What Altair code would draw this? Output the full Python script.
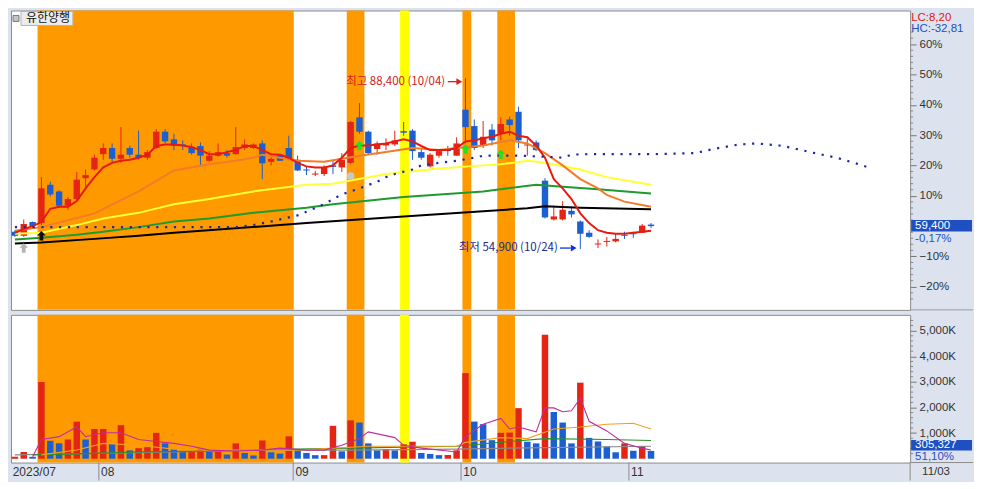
import altair as alt
import pandas as pd

# ---------------- data ----------------
# trading days 2023-07-18 .. 2023-11-03, index 0..72
month_bounds = [9.5, 31.5, 50.5, 69.5]
month_labels = ["08", "09", "10", "11"]

opens = [58300, 57500, 60200, 60000, 67500, 66200, 63400, 64700, 68800, 70500,
         73500, 74700, 72600, 74700, 73400, 72800, 74700, 77900, 76400, 75400,
         74900, 75100, 72200, 73200, 73700, 73500, 74700, 74700, 75600, 72000,
         73400, 74700, 72400, 70500, 69500, 69600, 71300, 70900, 71800, 80700,
         77900, 74500, 75200, 75400, 78000, 78100, 73900, 71100, 73200, 74500,
         73200, 82200, 79000, 75100, 78300, 77500, 80300, 81800, 75200, 75800,
         68300, 60700, 60700, 62400, 60300, 58100, 55800, 56300, 56400, 57700,
         58000, 58100, 59700]
highs = [58600, 60700, 60300, 69000, 68100, 66400, 65100, 70000, 70500, 73400,
         75600, 75600, 78800, 75200, 78100, 74300, 78400, 78400, 77500, 76200,
         75600, 75800, 74100, 75600, 74300, 78800, 76400, 75600, 76200, 73200,
         73500, 77100, 73200, 71100, 70200, 71300, 72400, 73700, 80000, 83500,
         78100, 76000, 76600, 78100, 79800, 78400, 74700, 73700, 74500, 75100,
         76800, 88400, 80300, 80000, 79400, 80700, 80900, 82800, 76600, 76200,
         68800, 63400, 64300, 63200, 60500, 58600, 56800, 57300, 57900, 58300,
         58300, 59800, 60000]
lows = [57300, 57300, 59000, 59600, 65200, 63000, 62600, 64300, 67100, 70300,
        72400, 71800, 71800, 72800, 72400, 72400, 74500, 75600, 74300, 74300,
        73400, 71300, 72000, 73000, 72800, 73400, 74300, 74500, 68600, 71300,
        72200, 72400, 70200, 69400, 69200, 69200, 69600, 70000, 71500, 77500,
        73400, 73400, 74300, 75100, 77100, 72400, 72400, 70900, 72800, 73200,
        73200, 75600, 74300, 74700, 75200, 76200, 77100, 74700, 73200, 74100,
        60900, 60500, 60500, 61100, 54900, 57100, 55100, 55400, 56200, 56900,
        57100, 58100, 59000]
closes = [57500, 59800, 59400, 66800, 65600, 63400, 64700, 68500, 69400, 72800,
          74700, 72600, 73400, 73400, 72800, 73900, 77900, 76000, 75100, 75100,
          73700, 73200, 73200, 73900, 73200, 74900, 75400, 75400, 71700, 72600,
          72200, 72600, 70300, 70300, 69700, 70900, 71000, 72400, 79800, 77900,
          73700, 75600, 75600, 76200, 77700, 74100, 72800, 73400, 74100, 74100,
          75600, 78800, 74700, 76900, 76200, 79400, 79200, 76200, 75400, 74300,
          61100, 61300, 62600, 61700, 57900, 57300, 56000, 56500, 56900, 57500,
          57800, 59500, 59400]

# volume in thousands of shares, and bar colour (R = up vs previous day, B = down)
vol_k = [75, 262, 75, 2996, 700, 600, 749, 1449, 749, 1161,
         1161, 574, 1311, 325, 412, 449, 1011, 599, 375, 300,
         300, 387, 262, 287, 162, 599, 225, 125, 712, 250,
         200, 874, 375, 225, 139, 139, 1285, 288, 1498, 1412,
         599, 326, 375, 326, 562, 663, 225, 187, 139, 145,
         326, 3344, 1449, 1348, 723, 1011, 1020, 1974, 663, 599,
         4842, 1824, 1412, 599, 2970, 813, 674, 476, 251, 599,
         311, 498, 305]
vol_dir = list("RRBRBBRRBRRBRBRRRBBBRRBRBRBBRBBRBBBRRBRBBBRBRRBBBRRRBBBRRRBBRBBBRBBBBRBRB")

# price moving averages
ma5 = [58100, 58800, 59400, 60200, 62800, 63200, 63200, 64300, 66800, 69000,
       70900, 71800, 72200, 72400, 72800, 73400, 75100, 75400, 75400, 75200,
       74900, 74300, 73500, 73500, 73900, 74300, 75100, 75100, 74300, 73500,
       73400, 72800, 71800, 71100, 70900, 70900, 71300, 72800, 74700, 75200,
       75200, 75400, 75600, 76000, 76400, 76000, 75100, 74300, 74300, 74300,
       74700, 76000, 76200, 76600, 76900, 77500, 77900, 77100, 76800, 75200,
       72800, 68600, 66800, 64700, 61900, 60000, 58600, 58100, 57900, 57900,
       58100, 58300, 58500]
ma10_idx = [0, 3, 9, 14, 18, 22, 25, 27, 28, 32, 35, 39, 42, 45, 48, 50, 53, 56, 58, 60, 62, 64, 66, 67, 69, 72]
ma10_val = [58500, 59200, 61900, 66200, 70300, 71500, 72200, 72800, 73400, 72200, 72000, 73200, 73900,
            74700, 74300, 74700, 75200, 76200, 75600, 73700, 71300, 68600, 66800, 65500, 64200, 63200]
ma20_idx = [0, 3, 7, 10, 14, 18, 22, 27, 33, 36, 42, 48, 53, 55, 58, 60, 64, 67, 72]
ma20_val = [57900, 58100, 59600, 60900, 62000, 63700, 64700, 66200, 67500, 67700, 69600, 70700,
            71300, 71500, 72200, 71800, 70500, 69000, 67500]
ma60_idx = [0, 3, 7, 10, 14, 18, 22, 27, 33, 36, 44, 53, 59, 62, 66, 72]
ma60_val = [56800, 57100, 57700, 58300, 59200, 60300, 60900, 62000, 63000, 63700, 65100, 66200,
            67500, 67100, 66600, 65800]
ma120_idx = [0, 3, 9, 14, 18, 33, 44, 53, 58, 60, 64, 72]
ma120_val = [56000, 56200, 56900, 57500, 58100, 60000, 61300, 62300, 62900, 63300, 63000, 62700]
span_idx = [0, 25, 27, 29, 32, 33, 35, 36, 37, 39, 41, 42, 43, 45, 46, 48, 50, 52, 53, 57, 60,
            62, 63, 65, 72, 77, 79, 82, 84, 87, 90, 93, 95, 97]
span_val = [59200, 59200, 59600, 60300, 61500, 62200, 63700, 64700, 65600, 66800, 68100, 69000,
            69600, 70500, 71300, 71800, 72200, 72800, 73200, 73200, 73000, 72800, 73400, 73500,
            73500, 73700, 74500, 75400, 75600, 75100, 73900, 72800, 71800, 70700]

# volume moving averages (thousands)
vma5_idx = [2, 3, 5, 7, 8, 10, 12, 14, 16, 18, 20, 22, 25, 28, 30, 33, 35, 37, 39, 40,
            43, 44, 46, 50, 51, 53, 55, 56, 57, 59, 60, 61, 62, 63, 64, 65, 67, 69, 71, 72]
vma5_val = [75, 749, 861, 1236, 861, 1011, 1011, 749, 674, 599, 487, 337, 300, 337, 412, 337,
            337, 524, 786, 1049, 824, 524, 412, 262, 861, 1348, 1573, 1161, 1236, 1049, 1985,
            1985, 1835, 1873, 2359, 1461, 1086, 599, 412, 337]
vma20_idx = [3, 7, 10, 14, 18, 22, 32, 40, 45, 50, 51, 55, 58, 61, 64, 67, 70, 72]
vma20_val = [150, 337, 599, 524, 375, 337, 337, 487, 487, 487, 637, 824, 786, 1161, 1236, 1348, 1386, 1161]
vma60_idx = [2, 7, 14, 22, 32, 38, 50, 56, 60, 67, 72]
vma60_val = [150, 187, 262, 300, 375, 412, 487, 674, 786, 749, 712]
vma120_idx = [0, 30, 38, 50, 56, 72]
vma120_val = [150, 337, 337, 375, 412, 487]

# highlighted background bands (index ranges)
band_from = [2.56, 37.56, 43.6, 50.66, 54.6]
band_to = [31.56, 39.56, 44.6, 51.66, 56.6]
band_color = ["#ff9900", "#ff9900", "#ffff00", "#ff9900", "#ff9900"]

# signal markers
arrow_idx = [1, 3, 39, 51, 55]
arrow_val = [55100, 57500, 75200, 74500, 73500]
arrow_col = ["#b4b4b4", "#111111", "#22e022", "#22e022", "#22e022"]
dot_idx = [38]
dot_val = [69200]

last_price = 59400
pct_ticks = [-20, -10, 10, 20, 30, 40, 50, 60]
vol_ticks = [1000, 2000, 3000, 4000, 5000]

# ---------------- layout ----------------
W, H1, H2 = 901, 300, 148
RED, BLUE = "#e42414", "#1b5fd0"
BG = "#dce3ee"
KFONT = "Noto Sans CJK KR"
NFONT = "Liberation Sans"

xs = alt.Scale(domain=[-0.444, 101.333], nice=False, zero=False, padding=0)
ys = alt.Scale(domain=[42992, 101646], nice=False, zero=False, padding=0)
vs = alt.Scale(domain=[-150, 5618], nice=False, zero=False, padding=0)

pct_vals = [last_price * (1 + k / 100) for k in pct_ticks]
PAX = alt.Axis(orient="right", values=pct_vals, title=None, tickSize=6, labelPadding=3,
               labelOverlap=False,
               labelExpr="format(round((datum.value/%d-1)*100),'d')+'%%'" % last_price)
VAX = alt.Axis(orient="right", values=vol_ticks, title=None, tickSize=6, labelOverlap=False,
               labelPadding=3, labelExpr="format(datum.value, ',') + 'K'")

candles = pd.DataFrame({"i": list(range(len(opens))), "o": opens, "h": highs,
                        "l": lows, "c": closes})
candles["col"] = [RED if c >= o else BLUE for o, c in zip(opens, closes)]
vols = pd.DataFrame({"i": list(range(len(vol_k))), "v": vol_k,
                     "col": [RED if d == "R" else BLUE for d in vol_dir]})
bands = pd.DataFrame({"a": band_from, "b": band_to, "c": band_color})

X = lambda f="i": alt.X(f"{f}:Q", scale=xs, axis=None)
YP = lambda f="p": alt.Y(f"{f}:Q", scale=ys, axis=PAX)
YV = lambda f="v": alt.Y(f"{f}:Q", scale=vs, axis=VAX)


def pline(idx, val, color, width, dash=None):
    d = pd.DataFrame({"i": idx, "p": val})
    kw = dict(color=color, strokeWidth=width)
    if dash:
        kw["strokeDash"] = dash
    return alt.Chart(d).mark_line(**kw).encode(x=X(), y=YP())


def vline(idx, val, color, width=1.1):
    d = pd.DataFrame({"i": idx, "v": val})
    return alt.Chart(d).mark_line(color=color, strokeWidth=width).encode(x=X(), y=YV())


one = pd.DataFrame({"k": [0]})


def label(txt, x, y, color="#333", size=11, font=NFONT, align="left"):
    return alt.Chart(one).mark_text(text=txt, color=color, fontSize=size, font=font,
                                    align=align, baseline="middle").encode(
        x=alt.value(x), y=alt.value(y))


def box(x1, x2, y1, y2, fill, stroke=None):
    kw = dict(fill=fill)
    if stroke:
        kw.update(stroke=stroke, strokeWidth=1)
    return alt.Chart(one).mark_rect(**kw).encode(
        x=alt.value(x1), x2=alt.value(x2), y=alt.value(y1), y2=alt.value(y2))


# ---------------- upper (price) panel ----------------
band_up = alt.Chart(bands).mark_rect().encode(
    x=X("a"), x2="b:Q", y=alt.value(0), y2=alt.value(H1),
    color=alt.Color("c:N", scale=None))

wicks = alt.Chart(candles).mark_rule(strokeWidth=1).encode(
    x=X(), y=YP("l"), y2="h:Q", color=alt.Color("col:N", scale=None))
bodies = alt.Chart(candles).mark_bar(size=6.4).encode(
    x=X(), y=YP("o"), y2="c:Q", color=alt.Color("col:N", scale=None))

ma_layers = [
    pline(ma120_idx, ma120_val, "#000000", 2),
    pline(ma60_idx, ma60_val, "#1f9a2e", 2),
    pline(ma20_idx, ma20_val, "#ffff33", 2),
    pline(ma10_idx, ma10_val, "#f47b2a", 2),
    pline(list(range(len(ma5))), ma5, "#e81a10", 2),
    pline(span_idx, span_val, "#1d2aa8", 2.2, dash=[2.2, 6.65]),
]

arrow_path = "M0,-1L0.9,-0.05L0.4,-0.05L0.4,1L-0.4,1L-0.4,-0.05L-0.9,-0.05Z"
arrows = alt.Chart(pd.DataFrame({"i": arrow_idx, "p": arrow_val, "c": arrow_col})).mark_point(
    shape=arrow_path, filled=True, size=90, opacity=1).encode(
    x=X(), y=YP(), color=alt.Color("c:N", scale=None))
dots = alt.Chart(pd.DataFrame({"i": dot_idx, "p": dot_val})).mark_point(
    shape="circle", filled=True, size=60, color="#c8c8c8", opacity=1).encode(
    x=X(), y=YP())

# annotations: highest / lowest
ann_txt = pd.DataFrame({"i": [48.7, 61.45], "p": [87700, 55100],
                        "t": ["최고 88,400 (10/04)", "최저 54,900 (10/24)"],
                        "c": ["#d42020", "#1c2a8e"]})
ann_text = alt.Chart(ann_txt).mark_text(align="right", baseline="middle", fontSize=11.5,
                                        font=KFONT).encode(
    x=X(), y=YP(), text="t:N", color=alt.Color("c:N", scale=None))
ann_line = pd.DataFrame({"a": [49.0, 61.7], "b": [50.1, 62.9], "p": [87700, 55100],
                         "c": ["#e02020", "#1030e0"]})
ann_rule = alt.Chart(ann_line).mark_rule(strokeWidth=1.3).encode(
    x=X("a"), x2="b:Q", y=YP(), color=alt.Color("c:N", scale=None))
ann_head = alt.Chart(pd.DataFrame({"i": [50.3, 63.25], "p": [87700, 55100],
                                   "c": ["#e02020", "#1030e0"]})).mark_point(
    shape="triangle-right", filled=True, size=45, opacity=1).encode(
    x=X(), y=YP(), color=alt.Color("c:N", scale=None))

# minor ticks on the percent axis (every 2 %)
minor_pct = [last_price * (1 + k / 50) for k in range(-12, 33) if k % 5 != 0]
minor_up = alt.Chart(pd.DataFrame({"p": minor_pct})).mark_rule(color="#888", strokeWidth=1).encode(
    y=YP(), x=alt.value(W), x2=alt.value(W + 3))

upper = alt.layer(
    band_up, wicks, bodies, *ma_layers, arrows, dots, ann_rule, ann_head, ann_text, minor_up,
    # title box
    box(10, 62, 1, 15, "#ececec", "#b4b4b4"),
    box(2, 8, 5, 11, "#c4c4c4", "#7a7a7a"),
    label("유한양행", 15, 8, color="#111", size=12, font=KFONT),
    # right strip texts
    label("LC:8,20", W + 1, 8, color="#e01818", size=11.5),
    label("HC:-32,81", W + 1, 18.5, color="#2450c0", size=11.5),
    box(W + 1, W + 62, 210, 221.5, "#1f50c2"),
    label("59,400", W + 5, 216, color="white", size=11.5),
    label("-0,17%", W + 5, 228.5, color="#2450c0", size=11.5),
    alt.Chart(one).mark_rule(color="#9a9a9a").encode(
        x=alt.value(W), x2=alt.value(W + 63), y=alt.value(H1)),
).properties(width=W, height=H1)

# ---------------- lower (volume) panel ----------------
band_lo = alt.Chart(bands).mark_rect().encode(
    x=X("a"), x2="b:Q", y=alt.value(0), y2=alt.value(H2),
    color=alt.Color("c:N", scale=None))
vbars = alt.Chart(vols).mark_bar(size=6.5).encode(
    x=X(), y=YV(), y2=alt.value(H2), color=alt.Color("col:N", scale=None))
vma_layers = [
    vline(vma120_idx, vma120_val, "#8a8a8a"),
    vline(vma60_idx, vma60_val, "#2a8f2a"),
    vline(vma20_idx, vma20_val, "#f0a020"),
    vline(vma5_idx, vma5_val, "#c02ca0"),
]
minor_v = alt.Chart(pd.DataFrame({"v": [k * 200 for k in range(1, 28) if k % 5 != 0]})).mark_rule(
    color="#888", strokeWidth=1).encode(
    y=YV(), x=alt.value(W), x2=alt.value(W + 3))

month_df = pd.DataFrame({"i": [-0.25] + [b + 0.25 for b in month_bounds],
                         "t": ["2023/07"] + month_labels})
month_text = alt.Chart(month_df).mark_text(align="left", baseline="middle", fontSize=12,
                                           font=NFONT, color="#333").encode(
    x=X(), y=alt.value(H2 + 9.5), text="t:N")
month_div = alt.Chart(pd.DataFrame({"i": month_bounds})).mark_rule(color="#8c8c8c").encode(
    x=X(), y=alt.value(H2), y2=alt.value(H2 + 18))

lower = alt.layer(
    box(W, W + 63, H2, H2 + 18, BG),
    band_lo, vbars, *vma_layers, minor_v,
    box(W + 1, W + 62, 125.5, 136, "#1f50c2"),
    label("305,327", W + 5, 130.8, color="white", size=11.5),
    label("51,10%", W + 5, 142.5, color="#2450c0", size=11.5),
    month_div, month_text,
    alt.Chart(one).mark_rule(color="#8c8c8c").encode(
        x=alt.value(W), y=alt.value(H2), y2=alt.value(H2 + 18)),
    alt.Chart(one).mark_rule(color="#8c8c8c").encode(
        x=alt.value(W), x2=alt.value(W + 63), y=alt.value(H2)),
    label("11/03", W + 12, H2 + 9.5, color="#333", size=11.5),
).properties(width=W, height=H2)

chart = alt.vconcat(upper, lower, spacing=3).properties(
    background=BG, padding={"left": 2, "top": 1, "right": 0, "bottom": 0}
).configure_view(
    stroke="#8c8c8c", strokeWidth=1, fill="white"
).configure_axis(
    labelFont=NFONT, labelFontSize=11.5, labelColor="#333", tickColor="#777",
    domain=False, grid=False
)

chart.save("out.html", embed_options={"renderer": "svg", "actions": False})
